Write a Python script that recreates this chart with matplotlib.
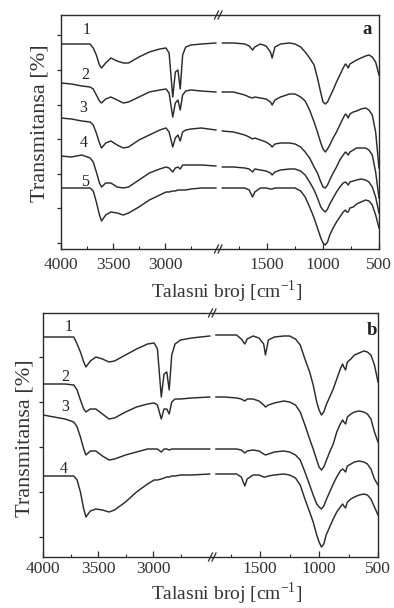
import numpy as np
import matplotlib
matplotlib.use('Agg')
import matplotlib.pyplot as plt
from matplotlib.lines import Line2D

# ---------------- data ----------------
wn_left_common = [4000, 3900, 3800, 3720, 3690, 3660, 3630, 3610, 3570, 3520, 3460, 3400,
                  3350, 3250, 3150, 3050, 2990, 2960, 2925, 2900, 2875, 2853, 2830, 2800,
                  2750, 2650]
wn_right_common = [1800, 1700, 1660, 1630, 1610, 1560, 1510, 1470, 1455, 1430, 1380, 1300,
                   1250, 1200, 1160, 1120, 1080, 1050, 1020, 1000, 980, 960, 940, 910, 880,
                   850, 820, 800, 790, 775, 760, 730, 700, 660, 620, 590, 560, 530, 500]
wn_a = np.array(wn_left_common + [2510] + [1900] + wn_right_common)
wn_b = np.array(wn_left_common + [2485] + [1875] + wn_right_common)

a1 = [205, 205, 205, 205, 201, 194, 184, 181, 186, 191, 188, 186, 186, 192, 197, 200, 201, 196, 152, 177, 179, 160, 194, 202, 204, 205, 206,
      206, 206, 205, 203, 199, 202, 205, 203, 197, 191, 202, 205, 206, 205, 202, 197, 191, 184, 171, 156, 147, 145, 147, 152, 159, 167, 174, 181, 185, 184, 181, 185, 187, 189, 191, 193, 194, 192, 187, 174]
a2 = [166, 165, 163, 162, 160, 154, 148, 146, 150, 152, 149, 146, 147, 152, 157, 159, 160, 156, 132, 146, 149, 139, 154, 158, 159, 158, 157,
      157, 157, 154, 152, 151, 152, 151, 150, 147, 144, 149, 152, 155, 155, 152, 148, 139, 127, 117, 106, 100, 97, 100, 104, 111, 117, 124, 131, 135, 134, 131, 135, 137, 138, 140, 141, 139, 134, 117, 81]
a3 = [131, 130, 128, 127, 124, 116, 106, 101, 106, 108, 104, 101, 102, 109, 114, 119, 121, 117, 102, 111, 114, 108, 117, 119, 120, 121, 119,
      118, 117, 114, 112, 110, 111, 109, 107, 104, 102, 105, 106, 106, 105, 102, 97, 91, 82, 76, 67, 62, 61, 64, 69, 76, 82, 89, 94, 97, 96, 94, 97, 99, 101, 101, 101, 99, 94, 77, 51]
a4 = [93, 92, 94, 91, 87, 77, 66, 62, 66, 66, 62, 61, 62, 69, 76, 80, 82, 81, 77, 81, 82, 80, 84, 84, 84, 84, 83,
      82, 82, 81, 80, 77, 80, 79, 78, 76, 74, 77, 79, 80, 80, 78, 74, 67, 59, 51, 42, 39, 37, 40, 45, 51, 57, 62, 66, 67, 66, 64, 67, 68, 69, 70, 69, 67, 62, 52, 36]
a5 = [61, 61, 61, 61, 58, 47, 34, 28, 34, 37, 36, 34, 36, 42, 49, 54, 57, 57, 58, 58, 59, 59, 59, 59, 60, 61, 61,
      61, 61, 61, 59, 52, 57, 61, 61, 60, 60, 61, 61, 61, 61, 58, 52, 42, 31, 21, 11, 6, 4, 7, 14, 21, 27, 32, 37, 39, 37, 37, 41, 42, 45, 47, 49, 48, 44, 34, 21]

b1 = [220, 220, 220, 220, 213, 205, 195, 190, 196, 200, 198, 195, 196, 202, 208, 213, 214, 208, 160, 183, 185, 167, 202, 213, 217, 219, 221,
      222, 222, 222, 218, 213, 218, 221, 219, 213, 202, 217, 220, 221, 221, 218, 212, 198, 185, 172, 155, 147, 142, 145, 152, 160, 168, 178, 188, 193, 190, 187, 195, 198, 202, 204, 206, 205, 202, 192, 175]
b2 = [173, 173, 173, 172, 167, 157, 148, 145, 148, 148, 143, 138, 139, 145, 150, 153, 154, 152, 138, 148, 148, 143, 155, 158, 158, 159, 160,
      160, 160, 159, 158, 156, 158, 158, 156, 152, 150, 152, 154, 156, 155, 152, 145, 132, 118, 108, 97, 90, 87, 90, 96, 105, 113, 125, 133, 137, 135, 133, 140, 143, 145, 146, 145, 143, 138, 125, 115]
b3 = [142, 140, 138, 135, 130, 120, 108, 102, 106, 106, 101, 97, 98, 102, 105, 108, 108, 108, 105, 108, 108, 107, 108, 108, 108, 108, 108,
      108, 108, 108, 107, 104, 106, 107, 106, 103, 102, 103, 105, 106, 105, 102, 97, 85, 72, 62, 53, 50, 48, 51, 57, 65, 73, 80, 86, 88, 87, 85, 91, 93, 95, 96, 95, 93, 88, 78, 72]
b4 = [81, 81, 81, 81, 77, 65, 48, 40, 46, 48, 47, 45, 47, 55, 65, 73, 77, 77, 78, 79, 80, 80, 81, 81, 82, 82, 83,
      83, 83, 83, 80, 71, 78, 82, 82, 80, 80, 81, 82, 83, 82, 79, 72, 58, 45, 35, 22, 15, 10, 13, 22, 30, 38, 45, 50, 53, 51, 49, 55, 58, 60, 62, 63, 62, 58, 50, 42]

curve_names = ['1', '2', '3', '4', '5']
xticks_left = [4000, 3500, 3000]
xticks_right = [1500, 1000, 500]
xlabel = 'Talasni broj [cm$^{\\mathregular{-1}}$]'
ylabel = 'Transmitansa [%]'

# ---------------- style ----------------
W, H = 394, 608
SERIF = ['Liberation Serif', 'DejaVu Serif']
plt.rcParams['font.family'] = SERIF
plt.rcParams['mathtext.fontset'] = 'custom'
plt.rcParams['mathtext.rm'] = 'Liberation Serif'
LC = '#2b2b2b'
fig = plt.figure(figsize=(W / 100, H / 100), dpi=100)


def px_axes(l, r, t, b):
    return fig.add_axes([l / W, 1 - b / H, (r - l) / W, (b - t) / H])


def panel(L, S, R, T, B, xl_left, xl_right, ylim, yticks, wn, curves, label_pos,
          letter, letter_pos, xlab_y, ylab_x, ylab_y, tickpad):
    axl = px_axes(L, S, T, B)
    axr = px_axes(S, R, T, B)
    wn = np.asarray(wn)
    left = wn > 2200
    for ys in curves:
        ys = np.asarray(ys, dtype=float)
        axl.plot(wn[left], ys[left], color=LC, lw=1.05)
        axr.plot(wn[~left], ys[~left], color=LC, lw=1.05)
    for ax in (axl, axr):
        ax.set_ylim(*ylim)
        for s in ax.spines.values():
            s.set_color(LC)
            s.set_linewidth(1.0)
        ax.tick_params(axis='x', which='both', direction='in', top=False,
                       labelsize=12.5, pad=tickpad, colors=LC, labelcolor='#333333')
        ax.tick_params(axis='x', which='major', length=4, width=0.9)
        ax.tick_params(axis='x', which='minor', length=2.5, width=0.8)
    axl.set_xlim(*xl_left)
    axr.set_xlim(*xl_right)
    axl.spines['right'].set_visible(False)
    axr.spines['left'].set_visible(False)
    axl.set_xticks(xticks_left)
    axl.set_xticks([3750, 3250, 2750], minor=True)
    axr.set_xticks(xticks_right)
    axr.set_xticks([1750, 1250, 750], minor=True)
    axl.set_yticks(yticks)
    axl.set_yticklabels([])
    axl.tick_params(axis='y', direction='out', length=3, width=0.9, colors=LC)
    axr.set_yticks([])
    for (x, y), name in zip(label_pos, curve_names):
        axl.text(x, y, name, ha='center', va='center', fontsize=11.5, color='#222222')
    axr.text(letter_pos[0], letter_pos[1], letter, transform=axr.transAxes,
             ha='center', va='center', fontsize=13.5, fontweight='bold', color='#222222')
    # break marks
    for yb in (T, B):
        for dx in (-2.5, 1.0):
            fig.add_artist(Line2D([(S + dx - 2) / W, (S + dx + 2) / W],
                                  [1 - (yb + 4) / H, 1 - (yb - 4) / H],
                                  transform=fig.transFigure, color=LC, lw=0.9))
    fig.text(227 / W, 1 - xlab_y / H, xlabel, ha='center', va='center',
             fontsize=14, color='#333333')
    fig.text(ylab_x / W, 1 - ylab_y / H, ylabel, rotation=90, ha='center',
             va='center', fontsize=16, color='#333333')
    return axl, axr


panel(61, 219, 379, 15, 249, (4000, 2480), (1930, 500), (0, 234),
      [6, 41, 75, 110, 144, 179, 214], wn_a, [a1, a2, a3, a4, a5],
      [(3750, 219), (3770, 174), (3785, 141), (3785, 106), (3770, 67)],
      'a', (0.925, 0.936), 292, 40, 123, 6)

panel(43, 213, 378, 313, 557, (4000, 2455), (1900, 500), (0, 244),
      [20, 65, 110, 155, 200], wn_b, [b1, b2, b3, b4],
      [(3770, 230), (3800, 180), (3800, 150), (3815, 88)],
      'b', (0.965, 0.93), 594, 25, 438, 3)

fig.savefig('out.png', dpi=100, facecolor='white')
